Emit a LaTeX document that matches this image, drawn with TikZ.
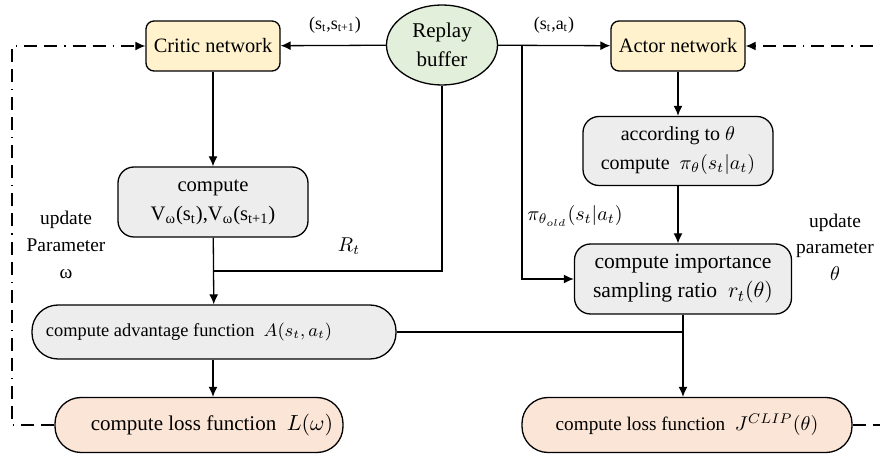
\documentclass[tikz,border=0pt]{standalone}
\usepackage{fontspec}
\setmainfont{Liberation Serif}
\usetikzlibrary{arrows.meta,shapes.geometric}
\definecolor{netfill}{HTML}{FFF2CC}
\definecolor{buffill}{HTML}{E2EFDA}
\definecolor{calcfill}{HTML}{EDEDED}
\definecolor{lossfill}{HTML}{FBE5D6}
\newcommand{\fs}[1]{\fontsize{#1}{14.5}\selectfont}

\begin{document}
\begin{tikzpicture}[%
x=0.5pt, y=-0.5pt,
>={Latex[length=5pt,width=4.5pt]},
line width=0.65pt,
net/.style={rectangle, draw, rounded corners=4pt, fill=netfill, minimum width=67pt, minimum height=25pt, inner sep=0pt, font=\fs{10.2}},
calc/.style={rectangle, draw, rounded corners=8pt, fill=calcfill, align=center, inner sep=0pt},
loss/.style={rectangle, draw, rounded corners=13pt, fill=lossfill, minimum height=27.5pt, inner sep=0pt},
dd/.style={dash pattern=on 6.5pt off 3.5pt on 6.5pt off 3.5pt on 0.6pt off 3.5pt},
lbl/.style={inner sep=0pt, align=center}
]
\useasboundingbox (0,0) rectangle (880,454);

\node[ellipse, draw, fill=buffill, minimum width=55.5pt, minimum height=40pt, inner sep=0pt, align=center, font=\fs{10.5}] (0) at (442,45) {Replay\\buffer};
\node[net] (1) at (213,46) {Critic network};
\node[net] (2) at (678,46) {Actor network};
\node[calc, minimum width=95pt, minimum height=35pt, font=\fs{10.3}] (3) at (213,202) {compute\\V\textsubscript{ω}(s\textsubscript{t}),V\textsubscript{ω}(s\textsubscript{t+1})};
\node[calc, minimum width=95pt, minimum height=34.5pt, font=\fs{10}] (4) at (678,151) {according to $\theta$\\compute\ \ $\pi_\theta(s_t|a_t)$};
\node[calc, minimum width=108.5pt, minimum height=35pt, font=\fs{10.8}] (5) at (683,279) {compute importance\\sampling ratio\ \ $r_t(\theta)$};
\node[calc, rounded corners=13pt, minimum width=182pt, minimum height=27pt, font=\fs{9.2}] (6) at (214,332) {compute advantage function\ \ $A(s_t,a_t)$\hspace{25pt}};
\node[loss, minimum width=144pt, font=\fs{10.5}] (7) at (199,425) {\hspace{13pt}compute loss function\ \ $L(\omega)$};
\node[loss, minimum width=165pt, font=\fs{9.6}] (8) at (687,425) {compute loss function\ \ $J^{CLIP}(\theta)$\hspace{6pt}};

\coordinate (9) at (522,46);
\coordinate (10) at (12,46);
\coordinate (11) at (900,46);
\coordinate (12) at (213,271);

% labels
\node[lbl, font=\fs{9}] (13) at (335,25) {(s\textsubscript{t},s\textsubscript{t+1})};
\node[lbl, font=\fs{9}] (14) at (554,25) {(s\textsubscript{t},a\textsubscript{t})};
\node[lbl, font=\fs{10}] (15) at (349,246) {$R_t$};
\node[lbl, font=\fs{10}] (16) at (575,216) {$\pi_{\theta_{old}}(s_t|a_t)$};
\node[lbl, font=\fontsize{9.7}{13.5}\selectfont] (17) at (66,245) {update\\Parameter\\ω};
\node[lbl, font=\fontsize{9.7}{13.3}\selectfont] (18) at (835,247) {update\\parameter\\$\theta$};

% data flow
\draw[->] (0) -- (1);
\draw[->] (0) -- (2);
\draw[->] (9) |- (5.west);
\draw (0.south) |- (12);
\draw[->] (1) -- (3);
\draw[->] (3) -- (6);
\draw[->] (2) -- (4);
\draw[->] (4) -- (4 |- 5.north);
\draw (6.east) -- (6.east -| 5.south);
\draw[->] (5.south) -- (5.south |- 8.north);
\draw[->] (6.south -| 12) -- (12 |- 7.north);

% parameter updates
\draw[dd,->] (7.west) -| (10) -- (1.west);
\draw[dd,->] (8.east) -| (11) -- (2.east);
\end{tikzpicture}
\end{document}
